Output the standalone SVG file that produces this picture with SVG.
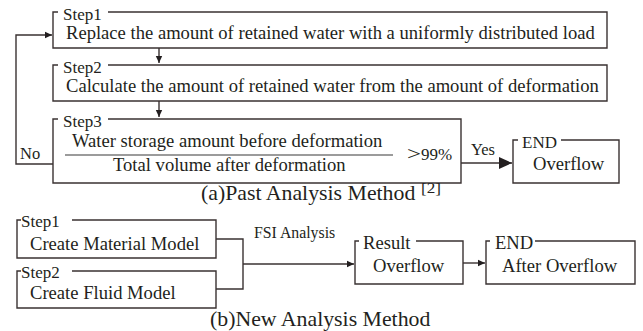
<svg xmlns="http://www.w3.org/2000/svg" width="643" height="331" viewBox="0 0 643 331">
<style>
text{font-family:"Liberation Serif","Times New Roman",serif;fill:#231f20}
.t{font-size:18.6px}
.st{font-size:17px}
.s{font-size:16.5px}
.cap{font-size:21.8px}
.box{fill:none;stroke:#3a3232;stroke-width:1.4}
.ln{fill:none;stroke:#3a3232;stroke-width:1.4}
.frac{stroke:#7a7a7a;stroke-width:1.4}
</style>
<defs>
<marker id="a" markerWidth="8" markerHeight="8" refX="7" refY="4" orient="auto" markerUnits="userSpaceOnUse">
<path d="M0,0.8 L7,4 L0,7.2 Z" fill="#231f20"/>
</marker>
<marker id="b" markerWidth="14" markerHeight="14" refX="13" refY="7" orient="auto" markerUnits="userSpaceOnUse">
<path d="M0,1 L13,7 L0,13 Z" fill="#231f20"/>
</marker>
</defs>

<g id="connectors">
<path class="ln" d="M159,48 V63" marker-end="url(#a)"/>
<path class="ln" d="M159,101 V117" marker-end="url(#a)"/>
<path class="ln" d="M53,164 H16 V35 H52" marker-end="url(#a)"/>
<text class="s" x="20" y="159">No</text>
<path class="ln" d="M461,163 H512" marker-end="url(#b)"/>
<text class="s" x="471" y="155">Yes</text>
<path class="ln" d="M216,239 H243 V289 H216"/>
<path class="ln" d="M243,264 H354" marker-end="url(#a)"/>
<text x="254" y="238" style="font-size:15.8px">FSI Analysis</text>
<path class="ln" d="M463,263 H485" marker-end="url(#a)"/>
</g>

<g id="a-step1">
<path class="box" d="M58,12 H53 V48 H607 V12 H108"/>
<text class="st" x="63" y="19.5">Step1</text>
<text class="t" x="66" y="39">Replace the amount of retained water with a uniformly distributed load</text>
</g>

<g id="a-step2">
<path class="box" d="M58,65 H53 V101 H607 V65 H108"/>
<text class="st" x="63" y="73">Step2</text>
<text class="t" x="66" y="92">Calculate the amount of retained water from the amount of deformation</text>
</g>

<g id="a-step3">
<path class="box" d="M58,119 H53 V183 H461 V119 H108"/>
<text class="st" x="63" y="127">Step3</text>
<text class="t" x="72" y="147">Water storage amount before deformation</text>
<line class="frac" x1="65" y1="155" x2="393" y2="155"/>
<text class="t" x="113" y="171">Total volume after deformation</text>
<text x="407" y="160" style="font-size:19px" textLength="14" lengthAdjust="spacingAndGlyphs">&gt;</text>
<text x="421" y="160" style="font-size:17px">99%</text>
</g>

<g id="a-end">
<path class="box" d="M518,140 H513 V183 H619 V140 H561"/>
<text class="st" x="522" y="148">END</text>
<text class="t" x="533" y="170">Overflow</text>
</g>

<text class="cap" x="201" y="200">(a)Past Analysis Method</text>
<text x="421" y="193" style="font-size:14px" textLength="20" lengthAdjust="spacingAndGlyphs">[2]</text>

<g id="b-step1">
<path class="box" d="M21,220 H17 V258 H216 V220 H72"/>
<text class="st" x="21" y="227">Step1</text>
<text class="t" x="30" y="250">Create Material Model</text>
</g>

<g id="b-step2">
<path class="box" d="M21,271 H17 V308 H216 V271 H72"/>
<text class="st" x="21" y="278">Step2</text>
<text class="t" x="30" y="299">Create Fluid Model</text>
</g>

<g id="b-result">
<path class="box" d="M359,241 H355 V284 H463 V241 H416"/>
<text class="t" x="363" y="249">Result</text>
<text class="t" x="373" y="272">Overflow</text>
</g>

<g id="b-end">
<path class="box" d="M490,241 H486 V284 H635 V241 H535"/>
<text class="t" x="495" y="249">END</text>
<text class="t" x="502" y="272">After Overflow</text>
</g>

<text class="cap" x="210" y="326">(b)New Analysis Method</text>
</svg>
